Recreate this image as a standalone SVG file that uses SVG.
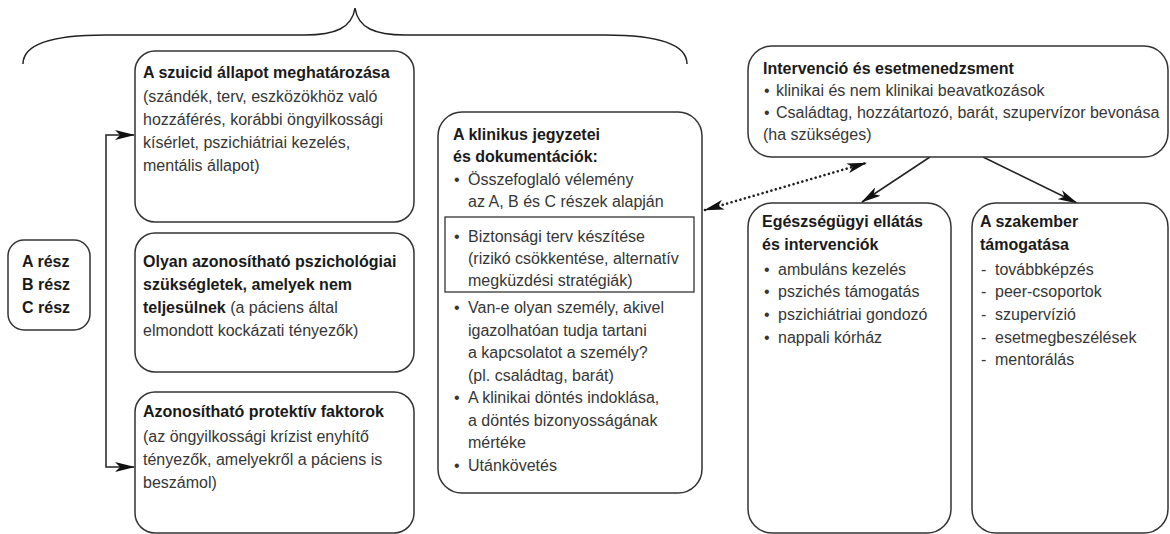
<svg xmlns="http://www.w3.org/2000/svg" width="1170" height="534" viewBox="0 0 1170 534">
<style>
.box{fill:#fff;stroke:#333;stroke-width:1.5}
.t{font-family:"Liberation Sans",Arial,sans-serif;font-size:16px;fill:#363636}
.b{font-family:"Liberation Sans",Arial,sans-serif;font-size:16px;font-weight:bold;fill:#1a1a1a}
.line{fill:none;stroke:#222;stroke-width:1.5}
.dot{fill:none;stroke:#222;stroke-width:2.6;stroke-dasharray:0.01 4.6;stroke-linecap:round}
</style>
<defs>
<marker id="ah" viewBox="0 0 20 10" markerWidth="20" markerHeight="10" refX="19" refY="5" orient="auto-start-reverse" markerUnits="userSpaceOnUse">
<path d="M0,0 L20,5 L0,10 L5,5 z" fill="#111"/>
</marker>
</defs>

<path id="brace" class="line" d="M23,64 C23,45 50,35 105,35 L305,35 C335,35 352,28 355,8 C358,28 375,35 405,35 L605,35 C660,35 687,45 687,64"/>

<g id="connectors">
<path class="line" d="M134,135 L106,135 L106,467 L134,467" marker-start="url(#ah)" marker-end="url(#ah)"/>
<path class="dot" d="M705,210 L866,163" marker-start="url(#ah)" marker-end="url(#ah)"/>
<path class="line" d="M930,157 L862,202" marker-end="url(#ah)"/>
<path class="line" d="M983,157 L1077,203" marker-end="url(#ah)"/>
</g>

<g id="abc">
<rect class="box" x="8" y="240" width="82" height="90" rx="16"/>
<text class="b" x="22" y="267">A rész</text>
<text class="b" x="22" y="290">B rész</text>
<text class="b" x="22" y="313">C rész</text>
</g>

<g id="box-a">
<rect class="box" x="135" y="51" width="279" height="171" rx="20"/>
<text class="b" x="143" y="78">A szuicid állapot meghatározása</text>
<text class="t" x="143" y="102">(szándék, terv, eszközökhöz való</text>
<text class="t" x="143" y="125">hozzáférés, korábbi öngyilkossági</text>
<text class="t" x="143" y="148">kísérlet, pszichiátriai kezelés,</text>
<text class="t" x="143" y="171">mentális állapot)</text>
</g>

<g id="box-b">
<rect class="box" x="135" y="233" width="279" height="139" rx="20"/>
<text class="b" x="143" y="267">Olyan azonosítható pszichológiai</text>
<text class="b" x="143" y="290">szükségletek, amelyek nem</text>
<text class="t" x="143" y="313"><tspan class="b">teljesülnek</tspan> (a páciens által</text>
<text class="t" x="143" y="336">elmondott kockázati tényezők)</text>
</g>

<g id="box-c">
<rect class="box" x="135" y="392" width="279" height="141" rx="20"/>
<text class="b" x="143" y="417">Azonosítható protektív faktorok</text>
<text class="t" x="143" y="442">(az öngyilkossági krízist enyhítő</text>
<text class="t" x="143" y="465">tényezők, amelyekről a páciens is</text>
<text class="t" x="143" y="488">beszámol)</text>
</g>

<g id="box-mid">
<rect class="box" x="438" y="112" width="264" height="381" rx="24"/>
<text class="b" x="453" y="140">A klinikus jegyzetei</text>
<text class="b" x="453" y="162">és dokumentációk:</text>
<text class="t" x="454" y="185">•</text>
<text class="t" x="468" y="185">Összefoglaló vélemény</text>
<text class="t" x="468" y="207">az A, B és C részek alapján</text>
<rect x="445" y="217" width="249" height="75" fill="none" stroke="#333" stroke-width="1.3"/>
<text class="t" x="454" y="242">•</text>
<text class="t" x="468" y="242">Biztonsági terv készítése</text>
<text class="t" x="468" y="264">(rizikó csökkentése, alternatív</text>
<text class="t" x="468" y="286">megküzdési stratégiák)</text>
<text class="t" x="454" y="313">•</text>
<text class="t" x="468" y="313">Van-e olyan személy, akivel</text>
<text class="t" x="468" y="336">igazolhatóan tudja tartani</text>
<text class="t" x="468" y="358">a kapcsolatot a személy?</text>
<text class="t" x="468" y="381">(pl. családtag, barát)</text>
<text class="t" x="454" y="403">•</text>
<text class="t" x="468" y="403">A klinikai döntés indoklása,</text>
<text class="t" x="468" y="426">a döntés bizonyosságának</text>
<text class="t" x="468" y="448">mértéke</text>
<text class="t" x="454" y="471">•</text>
<text class="t" x="468" y="471">Utánkövetés</text>
</g>

<g id="box-interv">
<rect class="box" x="748" y="46" width="420" height="111" rx="24"/>
<text class="b" x="763" y="74">Intervenció és esetmenedzsment</text>
<text class="t" x="764" y="96">•</text>
<text class="t" x="776" y="96">klinikai és nem klinikai beavatkozások</text>
<text class="t" x="764" y="118">•</text>
<text class="t" x="776" y="118">Családtag, hozzátartozó, barát, szupervízor bevonása</text>
<text class="t" x="763" y="140">(ha szükséges)</text>
</g>

<g id="box-eg">
<rect class="box" x="748" y="203" width="203" height="330" rx="24"/>
<text class="b" x="762" y="227">Egészségügyi ellátás</text>
<text class="b" x="762" y="250">és intervenciók</text>
<text class="t" x="764" y="275">•</text>
<text class="t" x="778" y="275">ambuláns kezelés</text>
<text class="t" x="764" y="297">•</text>
<text class="t" x="778" y="297">pszichés támogatás</text>
<text class="t" x="764" y="320">•</text>
<text class="t" x="778" y="320">pszichiátriai gondozó</text>
<text class="t" x="764" y="343">•</text>
<text class="t" x="778" y="343">nappali kórház</text>
</g>

<g id="box-szak">
<rect class="box" x="972" y="203" width="196" height="330" rx="24"/>
<text class="b" x="980" y="227">A szakember</text>
<text class="b" x="980" y="250">támogatása</text>
<text class="t" x="981" y="275">-</text>
<text class="t" x="995" y="275">továbbképzés</text>
<text class="t" x="981" y="297">-</text>
<text class="t" x="995" y="297">peer-csoportok</text>
<text class="t" x="981" y="320">-</text>
<text class="t" x="995" y="320">szupervízió</text>
<text class="t" x="981" y="343">-</text>
<text class="t" x="995" y="343">esetmegbeszélések</text>
<text class="t" x="981" y="365">-</text>
<text class="t" x="995" y="365">mentorálás</text>
</g>
</svg>
